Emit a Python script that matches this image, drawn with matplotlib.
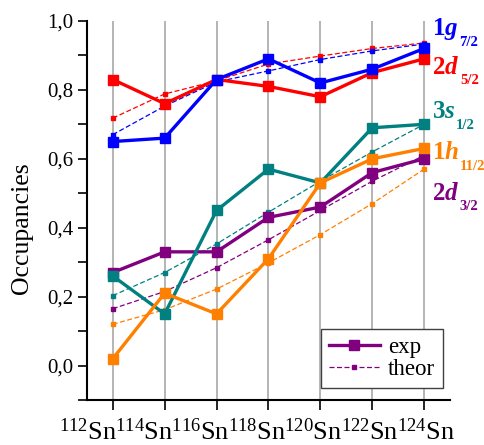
import matplotlib
matplotlib.use('Agg')
import matplotlib.pyplot as plt
from matplotlib.ticker import FixedLocator

plt.rcParams['font.family'] = 'Liberation Serif'
plt.rcParams['mathtext.fontset'] = 'custom'
plt.rcParams['mathtext.rm'] = 'Liberation Serif'
plt.rcParams['mathtext.bf'] = 'Liberation Serif:bold'
plt.rcParams['mathtext.it'] = 'Liberation Serif:italic:bold'

# isotopes
masses = [112, 114, 116, 118, 120, 122, 124]
xlabel_text = ''.join(r'$^{%d}$Sn' % m for m in masses)
ytick_values = [0.0, 0.2, 0.4, 0.6, 0.8, 1.0]
ytick_labels = ['0,0', '0,2', '0,4', '0,6', '0,8', '1,0']

# experimental occupancies
exp_1g72 = [0.65, 0.66, 0.83, 0.89, 0.82, 0.86, 0.92]
exp_2d52 = [0.83, 0.76, 0.83, 0.81, 0.78, 0.85, 0.89]
exp_3s12 = [0.26, 0.15, 0.45, 0.57, 0.53, 0.69, 0.70]
exp_1h112 = [0.02, 0.21, 0.15, 0.31, 0.53, 0.60, 0.63]
exp_2d32 = [0.27, 0.33, 0.33, 0.43, 0.46, 0.56, 0.60]

# theoretical occupancies
th_1g72 = [0.67, 0.753, 0.823, 0.855, 0.888, 0.913, 0.933]
th_2d52 = [0.718, 0.788, 0.826, 0.875, 0.898, 0.92, 0.936]
th_3s12 = [0.203, 0.27, 0.353, 0.445, 0.535, 0.62, 0.70]
th_1h112 = [0.12, 0.162, 0.222, 0.298, 0.38, 0.47, 0.57]
th_2d32 = [0.165, 0.215, 0.284, 0.365, 0.45, 0.535, 0.61]

# orbital labels: main part, subscript, baseline height
series = [
    (exp_2d32, th_2d32, '#800080', r'$\mathbf{2}d$', '3/2', 0.481),
    (exp_3s12, th_3s12, '#008080', r'$\mathbf{3}s$', '1/2', 0.718),
    (exp_1h112, th_1h112, '#ff8000', r'$\mathbf{1}h$', '11/2', 0.599),
    (exp_2d52, th_2d52, '#ff0000', r'$\mathbf{2}d$', '5/2', 0.846),
    (exp_1g72, th_1g72, '#0000ff', r'$\mathbf{1}g$', '7/2', 0.958),
]

fig = plt.figure(figsize=(4.85, 4.45), dpi=100)
ax = fig.add_axes([0.179, 0.101, 0.749, 0.852])

x = list(range(len(masses)))
for gx in x:
    ax.axvline(gx, color='#a0a0a0', lw=1.1, zorder=0)

for ev, tv, col, lab, sub, ly in series:
    ax.plot(x, tv, ls=(0, (4, 2)), lw=0.9, color=col, marker='s', ms=3,
            mec=col, mfc=col, zorder=2)
for ev, tv, col, lab, sub, ly in series:
    ax.plot(x, ev, ls='-', lw=2.4, color=col, marker='s', ms=7.5,
            mec=col, mfc=col, zorder=3)
    t = ax.text(6.154, ly, lab, color=col, fontsize=18, va='baseline', ha='left')
    ax.annotate(sub, xy=(1, ly), xycoords=(t, 'data'), xytext=(0.3, -7.5),
                textcoords='offset points', color=col, fontsize=10.5,
                fontweight='bold', va='baseline', ha='left')

ax.set_xlim(-0.5, 6.5)
ax.set_ylim(-0.1, 1.0)
ax.set_xticks(x)
ax.set_xticklabels([])
ax.set_yticks(ytick_values)
ax.set_yticklabels(ytick_labels, fontsize=15)
ax.yaxis.set_minor_locator(FixedLocator([-0.1, 0.1, 0.3, 0.5, 0.7, 0.9]))
ax.tick_params(axis='y', which='both', direction='out', length=6.5, width=1.2, pad=3)
ax.tick_params(axis='x', direction='out', length=7, width=1.2)

# x labels sit as one run of text under the axis
fig.text(257.5 / 485, 1 - 440 / 445, xlabel_text, fontsize=19,
         ha='center', va='baseline')
fig.text(22 / 485, 1 - 228 / 445, 'Occupancies', fontsize=18.5,
         rotation=90, ha='center', va='center')

for s in ['top', 'right']:
    ax.spines[s].set_visible(False)
for s in ['left', 'bottom']:
    ax.spines[s].set_linewidth(1.5)

# legend
h1, = ax.plot([], [], ls='-', lw=2.4, color='#800080', marker='s', ms=7.5)
h2, = ax.plot([], [], ls=(0, (4, 2)), lw=0.9, color='#800080', marker='s', ms=3)
leg = ax.legend([h1, h2], ['exp', 'theor'], loc='lower right',
                bbox_to_anchor=(0.98, 0.032), fontsize=16.5, fancybox=False,
                edgecolor='#404040', framealpha=1, handlelength=2.2,
                borderpad=0.35, labelspacing=0.05, handletextpad=0.35,
                borderaxespad=0)
leg.get_frame().set_linewidth(1.0)

fig.savefig('out.png', dpi=100)
